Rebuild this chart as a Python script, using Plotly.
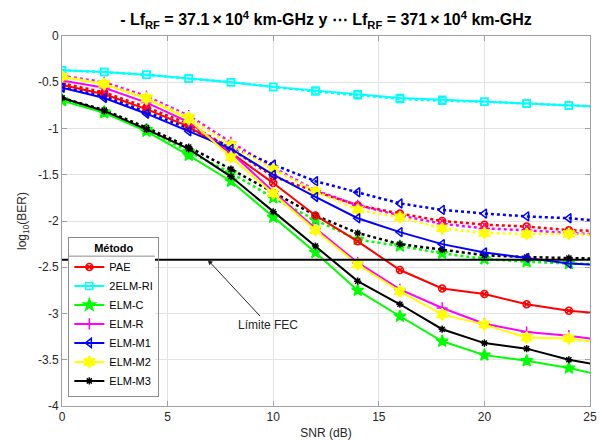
import plotly.graph_objects as go

# SNR sampling points (dB); the axis is cut at 25 dB
snr = [0, 2, 4, 6, 8, 10, 12, 14, 16, 18, 20, 22, 24, 26]

# log10(BER) for Lf_RF = 37.1e4 km-GHz (solid)
pae_a = [-0.53, -0.63, -0.79, -0.98, -1.26, -1.59, -1.94, -2.22, -2.53, -2.73, -2.79, -2.90, -2.97, -3.01]
elm2ri_a = [-0.37, -0.39, -0.42, -0.46, -0.50, -0.55, -0.59, -0.63, -0.67, -0.69, -0.71, -0.73, -0.75, -0.77]
elmc_a = [-0.70, -0.83, -1.03, -1.29, -1.57, -1.96, -2.34, -2.75, -3.03, -3.30, -3.45, -3.51, -3.59, -3.69]
elmr_a = [-0.48, -0.56, -0.72, -0.93, -1.26, -1.68, -2.08, -2.45, -2.74, -2.94, -3.11, -3.20, -3.24, -3.30]
elmm1_a = [-0.56, -0.67, -0.84, -1.03, -1.22, -1.50, -1.74, -1.97, -2.12, -2.25, -2.34, -2.40, -2.46, -2.48]
elmm2_a = [-0.44, -0.52, -0.68, -0.90, -1.31, -1.70, -2.10, -2.47, -2.76, -3.01, -3.12, -3.26, -3.27, -3.33]
elmm3_a = [-0.67, -0.81, -1.01, -1.22, -1.52, -1.90, -2.27, -2.65, -2.90, -3.17, -3.32, -3.38, -3.50, -3.58]

# log10(BER) for Lf_RF = 371e4 km-GHz (dotted)
pae_b = [-0.51, -0.61, -0.77, -0.95, -1.22, -1.52, -1.68, -1.83, -1.92, -2.00, -2.04, -2.06, -2.10, -2.11]
elm2ri_b = [-0.37, -0.39, -0.42, -0.46, -0.50, -0.55, -0.60, -0.64, -0.68, -0.70, -0.71, -0.73, -0.75, -0.77]
elmc_b = [-0.69, -0.82, -1.01, -1.25, -1.48, -1.75, -1.99, -2.20, -2.27, -2.35, -2.41, -2.44, -2.46, -2.47]
elmr_b = [-0.43, -0.50, -0.65, -0.86, -1.15, -1.42, -1.67, -1.83, -1.94, -2.03, -2.08, -2.10, -2.13, -2.15]
elmm1_b = [-0.55, -0.65, -0.82, -1.00, -1.20, -1.39, -1.57, -1.69, -1.81, -1.88, -1.92, -1.95, -1.97, -2.01]
elmm2_b = [-0.44, -0.52, -0.67, -0.88, -1.18, -1.44, -1.68, -1.88, -1.96, -2.08, -2.13, -2.14, -2.14, -2.16]
elmm3_b = [-0.67, -0.80, -0.99, -1.20, -1.44, -1.69, -1.94, -2.13, -2.25, -2.31, -2.37, -2.39, -2.40, -2.41]

# FEC threshold
fec_x = [0, 25]
fec_level = -2.42

methods = ["PAE", "2ELM-RI", "ELM-C", "ELM-R", "ELM-M1", "ELM-M2", "ELM-M3"]
series_a = [pae_a, elm2ri_a, elmc_a, elmr_a, elmm1_a, elmm2_a, elmm3_a]
series_b = [pae_b, elm2ri_b, elmc_b, elmr_b, elmm1_b, elmm2_b, elmm3_b]
colors = ["#ff0000", "#00ffff", "#00ff00", "#ff00ff", "#0000ff", "#ffff00", "#000000"]
symbols = ["circle-x-open", "square-open", "star", "cross-thin-open",
           "triangle-left-open", "hexagram", "asterisk-open"]
msizes = [7, 7, 9, 8, 8, 9, 6]

FONT = "Liberation Sans, Arial, Helvetica, sans-serif"
TXT = "#262626"

fig = go.Figure()

for name, ya, yb, c, s, ms in zip(methods, series_a, series_b, colors, symbols, msizes):
    fig.add_trace(go.Scatter(
        x=snr, y=yb, mode="lines+markers", showlegend=False,
        line=dict(color=c, width=2.5, dash="dot"),
        marker=dict(symbol=s, size=ms, color=c, line=dict(color=c, width=1.5)),
    ))
for name, ya, yb, c, s, ms in zip(methods, series_a, series_b, colors, symbols, msizes):
    fig.add_trace(go.Scatter(
        x=snr, y=ya, mode="lines+markers", name=name,
        line=dict(color=c, width=2),
        marker=dict(symbol=s, size=ms, color=c, line=dict(color=c, width=1.5)),
    ))

fig.add_trace(go.Scatter(
    x=fec_x, y=[fec_level] * len(fec_x), mode="lines", showlegend=False,
    line=dict(color="black", width=2),
))

fig.add_annotation(
    x=6.9, y=fec_level, xref="x", yref="y",
    ax=9.75, ay=-3.12, axref="x", ayref="y",
    text="Límite FEC", showarrow=True,
    arrowhead=2, arrowsize=1, arrowwidth=1, arrowcolor=TXT,
    font=dict(family=FONT, size=12, color=TXT),
)

# legend backing panel and the rule under its title
LEG_X0, LEG_X1, LEG_Y0, LEG_Y1, LEG_RULE = 0.012, 0.176, 0.024, 0.468, 0.405
fig.add_shape(type="rect", xref="paper", yref="paper",
              x0=LEG_X0, x1=LEG_X1, y0=LEG_Y0, y1=LEG_Y1,
              fillcolor="white", line=dict(width=0), layer="above")
fig.add_shape(type="line", xref="paper", yref="paper",
              x0=LEG_X0, x1=LEG_X1, y0=LEG_RULE, y1=LEG_RULE,
              line=dict(color="#8c8c8c", width=1), layer="above")

axis_common = dict(
    showgrid=True, gridcolor="#e3e3e3", gridwidth=1,
    showline=True, linecolor="#a0a0a0", linewidth=1, mirror="ticks",
    ticks="inside", ticklen=5, tickcolor="#a0a0a0",
    tickfont=dict(family=FONT, size=12, color=TXT),
    zeroline=False, automargin=False,
)

TS = "\u2009"  # thin space around the operators
title_text = ("<b>- Lf<sub>RF</sub> = 37.1" + TS + "\u00d7" + TS + "10<sup>4</sup> km-GHz y "
              "\u22ef Lf<sub>RF</sub> = 371" + TS + "\u00d7" + TS + "10<sup>4</sup> km-GHz</b>")

fig.update_layout(
    width=605, height=440,
    margin=dict(l=62, r=15, t=36, b=34),
    paper_bgcolor="white", plot_bgcolor="white",
    font=dict(family=FONT, size=12, color=TXT),
    title=dict(
        text=title_text,
        x=0.5 + (62 - 15) / 2 / 605, xanchor="center", y=0.955, yanchor="middle",
        font=dict(family=FONT, size=16, color="black"),
    ),
    xaxis=dict(range=[0, 25], tickvals=[0, 5, 10, 15, 20, 25],
               title=dict(text="SNR (dB)", standoff=6,
                          font=dict(family=FONT, size=12, color=TXT)),
               **axis_common),
    yaxis=dict(range=[-4, 0], tickvals=[0, -0.5, -1, -1.5, -2, -2.5, -3, -3.5, -4],
               ticktext=["0", "-0.5", "-1", "-1.5", "-2", "-2.5", "-3", "-3.5", "-4"],
               title=dict(text="log<sub>10</sub>(BER)", standoff=8,
                          font=dict(family=FONT, size=12, color=TXT)),
               **axis_common),
    legend=dict(
        title=dict(text="<b>Método</b>", side="top center",
                   font=dict(family=FONT, size=11, color="black")),
        x=LEG_X0, xanchor="left", y=LEG_Y0, yanchor="bottom",
        bgcolor="rgba(0,0,0,0)", bordercolor="#8c8c8c", borderwidth=1,
        font=dict(family=FONT, size=11, color="black"),
        itemwidth=30, tracegroupgap=0,
    ),
)

fig.write_html("out.html")
